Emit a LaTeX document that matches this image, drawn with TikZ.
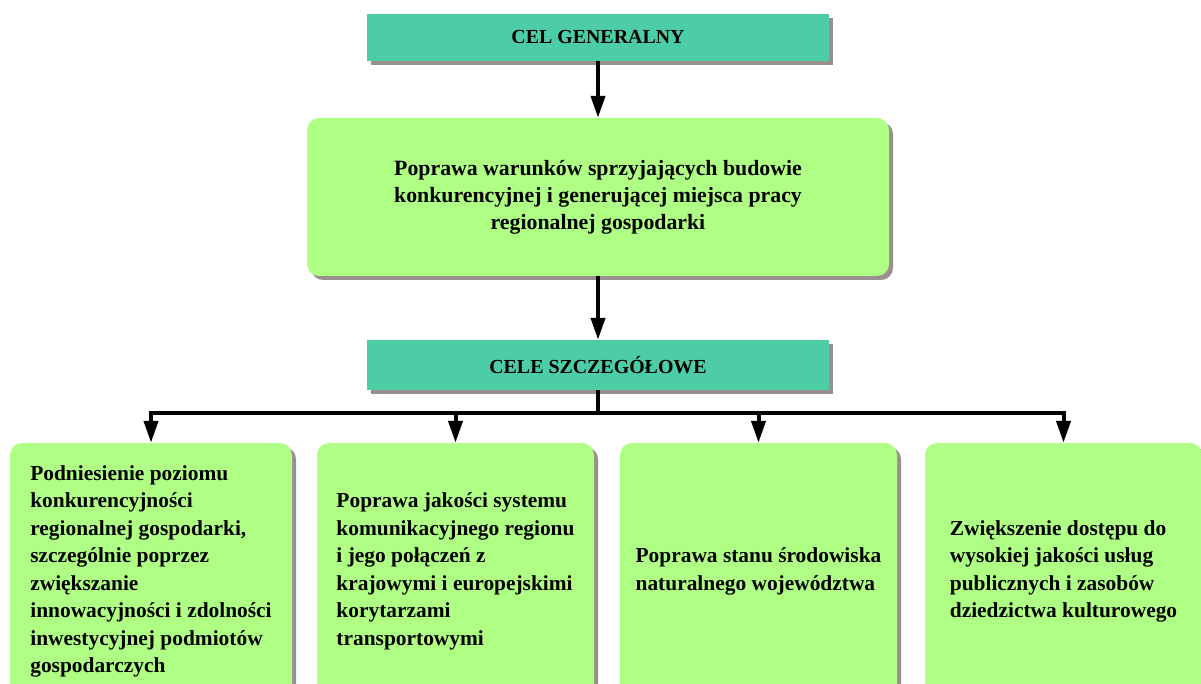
\documentclass[tikz,border=0pt]{standalone}
\usepackage{fontspec}
\setmainfont{Liberation Serif}
\usetikzlibrary{arrows.meta,shadows}
\definecolor{tealbox}{HTML}{4CCDA5}
\definecolor{greenbox}{HTML}{B0FF85}
\definecolor{shadegray}{HTML}{9A8F8F}
\tikzset{
  shad/.style={drop shadow={shadow xshift=4pt,shadow yshift=-4pt,fill=shadegray,opacity=1}},
  headbox/.style={shad, fill=tealbox, minimum width=462pt, inner sep=0pt,
    font=\bfseries\fontsize{19.9}{24}\selectfont},
  gbox/.style={shad, fill=greenbox, rounded corners=12pt, inner sep=0pt, align=left,
    font=\bfseries\fontsize{21.4}{27.5}\selectfont},
  lowbox/.style={gbox, minimum height=257pt},
  conn/.style={line width=4pt, -{Triangle[length=22pt,width=14pt]}},
  barline/.style={line width=4pt}
}
\begin{document}
\begin{tikzpicture}[x=1pt,y=-1pt]
\useasboundingbox (0,0) rectangle (1201,684);
\clip (0,0) rectangle (1201,684);
\fill[white] (0,0) rectangle (1201,684);

\node[headbox, minimum height=47pt] (top) at (598,37.5) {CEL GENERALNY};
\node[gbox, minimum width=582pt, minimum height=158pt, align=center,
  font=\bfseries\fontsize{21.8}{27}\selectfont] (main) at (598,197)
  {Poprawa warunków sprzyjających budowie\\konkurencyjnej i generującej miejsca pracy\\regionalnej gospodarki};
\node[headbox, minimum height=50pt] (cele) at (598,365) {CELE SZCZEGÓŁOWE};

\node[lowbox, minimum width=282pt] (b1) at (151,571.5)
  {Podniesienie poziomu\\konkurencyjności\\regionalnej gospodarki,\\szczególnie poprzez\\zwiększanie\\innowacyjności i zdolności\\inwestycyjnej podmiotów\\gospodarczych};
\node[lowbox, minimum width=277pt] (b2) at (455.5,571.5)
  {Poprawa jakości systemu\\komunikacyjnego regionu\\i jego połączeń z\\krajowymi i europejskimi\\korytarzami\\transportowymi};
\node[lowbox, minimum width=277pt] (b3) at (758.5,571.5)
  {Poprawa stanu środowiska\\naturalnego województwa};
\node[lowbox, minimum width=277pt] (b4) at (1063.5,571.5)
  {Zwiększenie dostępu do\\wysokiej jakości usług\\publicznych i zasobów\\dziedzictwa kulturowego};

\draw[conn] (top.south) -- (main.north);
\draw[conn] (main.south) -- (cele.north);

\coordinate (bary) at (598,413);
\draw[barline] (cele.south) -- (bary);
\draw[barline, line cap=rect] (b1.north |- bary) -- (b4.north |- bary);
\foreach \b in {b1,b2,b3,b4}{
  \draw[conn] (\b.north |- bary) -- (\b.north);
}
\end{tikzpicture}
\end{document}
